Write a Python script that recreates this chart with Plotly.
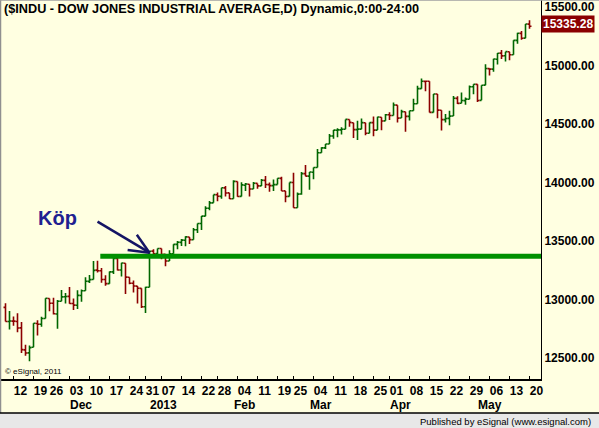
import math
import plotly.graph_objects as go

# ---------------- data ----------------
dates = [
    "2012-11-08", "2012-11-09", "2012-11-12", "2012-11-13", "2012-11-14", "2012-11-15", "2012-11-16",
    "2012-11-19", "2012-11-20", "2012-11-21", "2012-11-23", "2012-11-26", "2012-11-27", "2012-11-28",
    "2012-11-29", "2012-11-30",
    "2012-12-03", "2012-12-04", "2012-12-05", "2012-12-06", "2012-12-07", "2012-12-10", "2012-12-11",
    "2012-12-12", "2012-12-13", "2012-12-14", "2012-12-17", "2012-12-18", "2012-12-19", "2012-12-20",
    "2012-12-21", "2012-12-24", "2012-12-26", "2012-12-27", "2012-12-28", "2012-12-31",
    "2013-01-02", "2013-01-03", "2013-01-04", "2013-01-07", "2013-01-08", "2013-01-09", "2013-01-10",
    "2013-01-11", "2013-01-14", "2013-01-15", "2013-01-16", "2013-01-17", "2013-01-18", "2013-01-22",
    "2013-01-23", "2013-01-24", "2013-01-25", "2013-01-28", "2013-01-29", "2013-01-30", "2013-01-31",
    "2013-02-01", "2013-02-04", "2013-02-05", "2013-02-06", "2013-02-07", "2013-02-08", "2013-02-11",
    "2013-02-12", "2013-02-13", "2013-02-14", "2013-02-15", "2013-02-19", "2013-02-20", "2013-02-21",
    "2013-02-22", "2013-02-25", "2013-02-26", "2013-02-27", "2013-02-28",
    "2013-03-01", "2013-03-04", "2013-03-05", "2013-03-06", "2013-03-07", "2013-03-08", "2013-03-11",
    "2013-03-12", "2013-03-13", "2013-03-14", "2013-03-15", "2013-03-18", "2013-03-19", "2013-03-20",
    "2013-03-21", "2013-03-22", "2013-03-25", "2013-03-26", "2013-03-27", "2013-03-28",
    "2013-04-01", "2013-04-02", "2013-04-03", "2013-04-04", "2013-04-05", "2013-04-08", "2013-04-09",
    "2013-04-10", "2013-04-11", "2013-04-12", "2013-04-15", "2013-04-16", "2013-04-17", "2013-04-18",
    "2013-04-19", "2013-04-22", "2013-04-23", "2013-04-24", "2013-04-25", "2013-04-26", "2013-04-29",
    "2013-04-30",
    "2013-05-01", "2013-05-02", "2013-05-03", "2013-05-06", "2013-05-07", "2013-05-08", "2013-05-09",
    "2013-05-10", "2013-05-13", "2013-05-14", "2013-05-15", "2013-05-16", "2013-05-17", "2013-05-20",
]

opens = [
    12932, 12811, 12815, 12811, 12757, 12569, 12543, 12592, 12795, 12788, 12837, 13008, 12967, 12876, 12985, 13023,
    13026, 12966, 12951, 13034, 13075, 13155, 13170, 13251, 13245, 13170, 13135, 13236, 13350, 13252,
    13310, 13190, 13139, 13114, 13095, 12938,
    13104, 13413, 13392, 13436, 13385, 13329, 13391, 13471, 13488, 13506, 13534, 13511, 13596, 13649,
    13712, 13780, 13826, 13895, 13881, 13954, 13911,
    13861, 14008, 13881, 13976, 13985, 13944, 13992, 13971, 14018, 13982, 13973, 13982, 14035, 13928,
    13881, 14000, 13784, 13901, 14076,
    14054, 14088, 14128, 14254, 14296, 14329, 14397, 14447, 14450, 14455, 14539, 14511, 14452, 14456,
    14511, 14421, 14512, 14448, 14558, 14527,
    14579, 14573, 14661, 14551, 14605, 14565, 14613, 14673, 14802, 14864, 14865, 14599, 14756, 14618,
    14537, 14548, 14568, 14719, 14677, 14700, 14712, 14818,
    14839, 14702, 14832, 14973, 14969, 15054, 15106, 15083, 15117, 15092, 15215, 15275, 15234, 15354,
]

highs = [
    12968, 12902, 12855, 12883, 12808, 12613, 12606, 12797, 12823, 12853, 13010, 13008, 13014, 12995, 13080, 13055,
    13106, 13008, 13078, 13085, 13190, 13210, 13329, 13331, 13269, 13208, 13238, 13368, 13364, 13314,
    13310, 13190, 13163, 13115, 13095, 13109,
    13412, 13430, 13436, 13436, 13385, 13420, 13471, 13500, 13517, 13540, 13534, 13610, 13650, 13713,
    13797, 13841, 13896, 13915, 13955, 13969, 13911,
    14019, 14008, 14003, 13995, 13985, 14004, 13992, 14030, 14055, 14000, 14025, 14036, 14048, 13928,
    14000, 14083, 13914, 14089, 14150,
    14090, 14128, 14286, 14301, 14330, 14414, 14448, 14463, 14472, 14539, 14539, 14511, 14527, 14546,
    14511, 14512, 14563, 14561, 14558, 14585,
    14601, 14684, 14661, 14621, 14605, 14614, 14716, 14826, 14888, 14865, 14865, 14757, 14756, 14618,
    14586, 14613, 14740, 14737, 14769, 14726, 14829, 14840,
    14839, 14832, 15010, 14973, 15057, 15106, 15133, 15118, 15117, 15216, 15280, 15296, 15355, 15386,
]

lows = [
    12811, 12743, 12775, 12719, 12543, 12519, 12471, 12592, 12691, 12767, 12837, 12899, 12872, 12750, 12985, 12965,
    12963, 12910, 12918, 12981, 13075, 13141, 13170, 13231, 13142, 13118, 13135, 13217, 13247, 13196,
    13047, 13129, 13060, 12965, 12926, 12884,
    13104, 13358, 13367, 13343, 13283, 13329, 13391, 13430, 13456, 13455, 13474, 13511, 13568, 13594,
    13712, 13763, 13826, 13840, 13861, 13880, 13858,
    13861, 13879, 13881, 13927, 13880, 13944, 13946, 13969, 13952, 13921, 13927, 13982, 13927, 13832,
    13881, 13784, 13784, 13896, 14054,
    13937, 14027, 14128, 14254, 14286, 14329, 14373, 14386, 14411, 14455, 14477, 14381, 14364, 14456,
    14403, 14421, 14395, 14448, 14447, 14527,
    14534, 14573, 14513, 14551, 14434, 14529, 14613, 14673, 14802, 14779, 14598, 14599, 14550, 14445,
    14512, 14489, 14568, 14671, 14677, 14665, 14712, 14754,
    14687, 14702, 14832, 14915, 14947, 15009, 15055, 15034, 15046, 15092, 15187, 15220, 15234, 15315,
]

closes = [
    12811.32, 12815.39, 12815.08, 12756.18, 12570.95, 12542.38, 12588.31, 12795.96, 12788.51, 12836.89,
    13009.68, 12967.37, 12878.13, 12985.11, 13021.82, 13025.58,
    12965.60, 12951.78, 13034.49, 13074.04, 13155.13, 13169.88, 13248.44, 13245.45, 13170.72, 13135.01,
    13235.39, 13350.96, 13251.97, 13311.72, 13190.84, 13139.08, 13114.59, 13096.31, 12938.11, 13104.14,
    13412.55, 13391.36, 13435.21, 13384.29, 13328.85, 13390.51, 13471.22, 13488.43, 13507.32, 13534.89,
    13511.23, 13596.02, 13649.70, 13712.21, 13779.33, 13825.33, 13895.98, 13881.93, 13954.42, 13910.42,
    13860.58,
    14009.79, 13880.08, 13979.30, 13986.52, 13944.05, 13992.97, 13971.24, 14018.70, 13982.91, 13973.39,
    13981.76, 14035.67, 13927.54, 13880.62, 14000.57, 13784.17, 13900.13, 14075.37, 14054.49,
    14089.66, 14127.82, 14253.77, 14296.24, 14329.49, 14397.07, 14447.29, 14450.06, 14455.28, 14539.14,
    14514.11, 14452.06, 14455.82, 14511.73, 14421.49, 14512.03, 14447.75, 14559.65, 14526.16, 14578.54,
    14572.85, 14662.01, 14550.35, 14606.11, 14565.25, 14613.48, 14673.46, 14802.24, 14865.14, 14865.06,
    14599.20, 14756.78, 14618.59, 14537.14, 14547.51, 14567.17, 14719.46, 14676.24, 14700.80, 14712.55,
    14818.75, 14839.80,
    14700.95, 14831.58, 14973.96, 14968.89, 15056.20, 15105.12, 15082.62, 15118.49, 15091.68, 15215.25,
    15275.69, 15233.22, 15354.40, 15335.28,
]
prev_close_before_first = 12932.21

# x tick labels (first trading day of each week) and month labels
tick_dates = [
    "2012-11-12", "2012-11-19", "2012-11-26", "2012-12-03", "2012-12-10", "2012-12-17", "2012-12-24",
    "2012-12-31", "2013-01-07", "2013-01-14", "2013-01-22", "2013-01-28", "2013-02-04", "2013-02-11",
    "2013-02-19", "2013-02-25", "2013-03-04", "2013-03-11", "2013-03-18", "2013-03-25", "2013-04-01",
    "2013-04-08", "2013-04-15", "2013-04-22", "2013-04-29", "2013-05-06", "2013-05-13", "2013-05-20",
]
tick_labels = [d[-2:] for d in tick_dates]
month_dates = ["2012-12-03", "2013-01-02", "2013-02-01", "2013-03-01", "2013-04-01", "2013-05-01"]
month_labels = ["Dec", "2013", "Feb", "Mar", "Apr", "May"]

y_ticks = [12500, 13000, 13500, 14000, 14500, 15000, 15500]
last_price = closes[-1]

# drawing tools on the chart (support line and buy arrow)
support_level = 13370
support_start = "2012-12-13"
arrow_tip_date, arrow_tip_price = "2013-01-02", 13400
arrow_tail_date, arrow_tail_price = "2012-12-12", 13665
buy_text_date, buy_text_price = "2012-11-28", 13700

title_text = "($INDU - DOW JONES INDUSTRIAL AVERAGE,D) Dynamic,0:00-24:00"

# ---------------- styling ----------------
BG = "#FFFFE1"
UP = "#006600"
DOWN = "#8C0000"
ARROW = "#141464"
FONT = "Arial, Liberation Sans, sans-serif"
W, H = 599, 428
ML, MR, MT, MB = 1, 58, 0, 49
PW, PH = W - ML - MR, H - MT - MB
X0 = -1.125
XR = [X0, X0 + PW / 4.0]
YR = [12320, 15560]
px_x = PW / (XR[1] - XR[0])
px_y = PH / (YR[1] - YR[0])

pos = {d: i for i, d in enumerate(dates)}
idx = list(range(len(dates)))
prev = [prev_close_before_first] + closes[:-1]
up_idx = [i for i in idx if closes[i] >= prev[i]]
dn_idx = [i for i in idx if closes[i] < prev[i]]

fig = go.Figure()
for sel, col in ((up_idx, UP), (dn_idx, DOWN)):
    fig.add_trace(go.Ohlc(
        x=sel,
        open=[opens[i] for i in sel],
        high=[highs[i] for i in sel],
        low=[lows[i] for i in sel],
        close=[closes[i] for i in sel],
        increasing=dict(line=dict(color=col, width=1.6)),
        decreasing=dict(line=dict(color=col, width=1.6)),
        tickwidth=0.5,
        showlegend=False,
        hoverinfo="skip",
    ))

fig.add_shape(type="line", xref="x", yref="y",
              x0=pos[support_start] - 0.3, x1=XR[1] + 1, y0=support_level, y1=support_level,
              line=dict(color="#009000", width=5), layer="above")

# arrow: shaft + two barbs (open V head)
tx, ty = pos[arrow_tip_date], arrow_tip_price
sx, sy = pos[arrow_tail_date], arrow_tail_price
dxp, dyp = (sx - tx) * px_x, -(sy - ty) * px_y
ln = math.hypot(dxp, dyp)
ux, uy = dxp / ln, dyp / ln
segs = [(sx, sy)]
for ang in (math.radians(24), math.radians(-24)):
    bx = (ux * math.cos(ang) - uy * math.sin(ang)) * 22
    by = (ux * math.sin(ang) + uy * math.cos(ang)) * 22
    segs.append((tx + bx / px_x, ty - by / px_y))
for (ex, ey) in segs:
    fig.add_shape(type="line", xref="x", yref="y", x0=tx, y0=ty, x1=ex, y1=ey,
                  line=dict(color=ARROW, width=2.5), layer="above")

fig.add_annotation(x=pos[buy_text_date], y=buy_text_price, xref="x", yref="y", text="Köp",
                   showarrow=False, font=dict(family=FONT, size=20, color="#202090", weight="bold"))

for d, t in zip(month_dates, month_labels):
    fig.add_annotation(x=pos[d] - 0.3, y=0, xref="x", yref="paper", text=t, showarrow=False,
                       xanchor="left", yanchor="top", yshift=-17,
                       font=dict(family=FONT, size=12, color="black", weight="bold"))

# last price box
fig.add_annotation(x=1, y=last_price, xref="paper", yref="y", text="%.2f" % last_price, showarrow=False,
                   xanchor="left", yanchor="middle", xshift=0, yshift=2, bgcolor="#8B0000",
                   font=dict(family=FONT, size=12, color="white", weight="bold"), borderpad=1)

# title
fig.add_annotation(x=0, y=1, xref="paper", yref="paper", text=title_text, showarrow=False,
                   xanchor="left", yanchor="top", xshift=1, yshift=0,
                   font=dict(family=FONT, size=12.7, color="black", weight="bold"))

# copyright
fig.add_annotation(x=0, y=0, xref="paper", yref="paper", text="© eSignal, 2011", showarrow=False,
                   xanchor="left", yanchor="bottom", xshift=2, yshift=1,
                   font=dict(family=FONT, size=8, color="black"))

# frame borders (left, top) and bottom status strip
strip_top = -(413 - PH) / PH
fig.add_shape(type="line", xref="paper", yref="paper", x0=-0.5 / PW, x1=-0.5 / PW, y0=1, y1=strip_top,
              line=dict(color="#909090", width=1.5))
fig.add_shape(type="line", xref="paper", yref="paper", x0=-0.01, x1=1.2, y0=1, y1=1,
              line=dict(color="#A0A0A0", width=1.5))
fig.add_shape(type="rect", xref="paper", yref="paper", x0=-0.01, x1=1.2, y0=strip_top, y1=-0.2,
              fillcolor="#E8E8E8", line=dict(width=0), layer="below")
fig.add_shape(type="line", xref="paper", yref="paper", x0=-0.01, x1=1.2, y0=strip_top, y1=strip_top,
              line=dict(color="black", width=1.5))
fig.add_annotation(x=(593 - ML) / PW, y=-(421 - PH) / PH, xref="paper", yref="paper",
                   text="Published by eSignal (www.esignal.com)", showarrow=False,
                   xanchor="right", yanchor="middle",
                   font=dict(family=FONT, size=9.5, color="black"))

fig.update_layout(
    width=W, height=H,
    margin=dict(l=ML, r=MR, t=MT, b=MB, pad=0),
    paper_bgcolor=BG, plot_bgcolor=BG,
    showlegend=False,
    xaxis=dict(
        range=XR, showgrid=False, zeroline=False,
        showline=True, linecolor="black", linewidth=2,
        tickvals=[pos[d] for d in tick_dates], ticktext=tick_labels,
        ticks="inside", ticklen=3, tickcolor="black", tickwidth=1,
        ticklabelshift=7, ticklabelstandoff=0,
        tickfont=dict(family=FONT, size=12, color="black", weight="bold"),
        rangeslider=dict(visible=False), fixedrange=True,
    ),
    yaxis=dict(
        side="right", range=YR, showgrid=False, zeroline=False,
        showline=True, linecolor="black", linewidth=1,
        tickvals=y_ticks, tickformat=".2f", ticks="",
        tickfont=dict(family=FONT, size=12, color="black", weight="bold"),
        fixedrange=True,
    ),
)

fig.write_html("out.html")
